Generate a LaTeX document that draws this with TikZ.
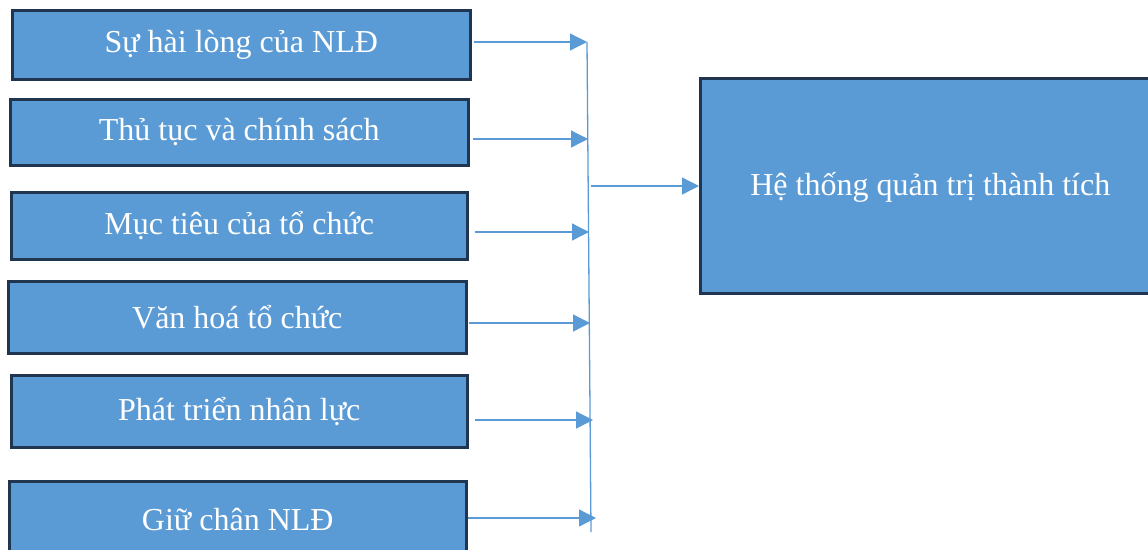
\documentclass[tikz,border=0pt]{standalone}
\usepackage{fontspec}
\setmainfont{Liberation Serif}
\usetikzlibrary{arrows.meta,calc}
\definecolor{boxfill}{HTML}{5B9BD5}
\definecolor{boxedge}{HTML}{1F3550}
\definecolor{linec}{HTML}{5B9BD5}
\tikzset{
  factor/.style={draw=boxedge, line width=2.5pt, fill=boxfill, text=white, inner sep=0pt,
    font=\fontsize{32}{37}\selectfont, anchor=north west},
  conn/.style={draw=linec, line width=1.3pt, -{Triangle[length=17pt,width=17pt]}},
  bar/.style={draw=linec, line width=1.3pt}
}
\begin{document}
\begin{tikzpicture}[x=1pt,y=-1pt]
\useasboundingbox (0,0) rectangle (1148,549);
\clip (0,0) rectangle (1148,549);
\node[factor, minimum width=458pt, minimum height=69pt] (b1) at (11,9) {Sự hài lòng của NLĐ};
\node[factor, minimum width=458pt, minimum height=66pt] (b2) at (9,98) {Thủ tục và chính sách};
\node[factor, minimum width=456pt, minimum height=67pt] (b3) at (10,191) {Mục tiêu của tổ chức};
\node[factor, minimum width=458pt, minimum height=72pt] (b4) at (7,280) {Văn hoá tổ chức};
\node[factor, minimum width=456pt, minimum height=72pt] (b5) at (10,374) {Phát triển nhân lực};
\node[factor, minimum width=457pt, minimum height=76pt] (b6) at (8,480) {Giữ chân NLĐ};
\node[factor, minimum width=460pt, minimum height=215pt, text depth=4pt] (r) at (699,77) {Hệ thống quản trị thành tích};
\coordinate (vt) at (587,42);
\coordinate (vb) at (591,532);
\coordinate (t1) at (587,42);
\coordinate (t2) at (588,139);
\coordinate (t3) at (589,232);
\coordinate (t4) at (590,323);
\coordinate (t5) at (593,420);
\coordinate (t6) at (596,518);
\coordinate (vm) at (591,186);
\draw[bar] (vt) -- (vb);
\draw[conn] ($(b1.east |- t1)+(2,0)$) -- (t1);
\draw[conn] ($(b2.east |- t2)+(3,0)$) -- (t2);
\draw[conn] ($(b3.east |- t3)+(6,0)$) -- (t3);
\draw[conn] ($(b4.east |- t4)+(1,0)$) -- (t4);
\draw[conn] ($(b5.east |- t5)+(6,0)$) -- (t5);
\draw[conn] (b6.east |- t6) -- (t6);
\draw[conn] (vm) -- (r.west |- vm);
\end{tikzpicture}
\end{document}
